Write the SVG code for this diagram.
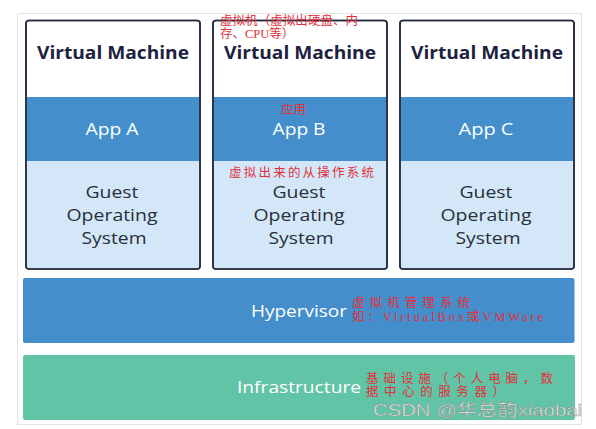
<svg xmlns="http://www.w3.org/2000/svg" width="596" height="429" viewBox="0 0 596 429">
<style>
.vm{fill:#ffffff;stroke:#262c40;stroke-width:1.6}
.app{fill:#448fcb}
.os{fill:#d3e7f8}
.title{font-family:"Open Sans","Liberation Sans",Arial,sans-serif;font-weight:bold;font-size:17px;fill:#1c2240;text-anchor:middle}
.apptxt{font-family:"Open Sans","Liberation Sans",Arial,sans-serif;font-size:16px;fill:#ffffff;text-anchor:middle}
.ostxt{font-family:"Open Sans","Liberation Sans",Arial,sans-serif;font-size:16.5px;fill:#2a2f3a;text-anchor:middle}
.band{font-family:"Open Sans","Liberation Sans",Arial,sans-serif;font-size:16.5px;fill:#ffffff;text-anchor:middle}
.note{font-family:"Liberation Serif","Noto Sans CJK SC",serif;font-size:12.5px;fill:#e0303a}
.mark{font-family:"Liberation Sans","Noto Sans CJK SC",sans-serif;font-size:17px;fill:#f4f4f4;stroke:#8a8a8a;stroke-width:0.5;opacity:0.9}
</style>
<rect x="0" y="0" width="596" height="429" fill="#ffffff"/>
<rect x="17.5" y="13.5" width="564" height="411" fill="#ffffff" stroke="#e4e4e4" stroke-width="1"/>

<g id="vm1">
<rect class="vm" x="26" y="20.5" width="174" height="248.5" rx="3"/>
<rect class="app" x="26.8" y="97" width="172.4" height="64"/>
<rect class="os" x="26.8" y="161" width="172.4" height="107.2"/>
<rect x="26" y="20.5" width="174" height="248.5" rx="3" fill="none" stroke="#262c40" stroke-width="1.6"/>
<text class="title" x="113" y="59" textLength="152" lengthAdjust="spacingAndGlyphs">Virtual Machine</text>
<text class="apptxt" x="112" y="135" textLength="53" lengthAdjust="spacingAndGlyphs">App A</text>
<text class="ostxt" x="112" y="198" textLength="53" lengthAdjust="spacingAndGlyphs">Guest</text>
<text class="ostxt" x="112" y="221" textLength="91" lengthAdjust="spacingAndGlyphs">Operating</text>
<text class="ostxt" x="114" y="244" textLength="65" lengthAdjust="spacingAndGlyphs">System</text>
</g>

<g id="vm2">
<rect class="vm" x="213" y="20.5" width="174" height="248.5" rx="3"/>
<rect class="app" x="213.8" y="97" width="172.4" height="64"/>
<rect class="os" x="213.8" y="161" width="172.4" height="107.2"/>
<rect x="213" y="20.5" width="174" height="248.5" rx="3" fill="none" stroke="#262c40" stroke-width="1.6"/>
<text class="title" x="300" y="59" textLength="152" lengthAdjust="spacingAndGlyphs">Virtual Machine</text>
<text class="apptxt" x="299" y="135" textLength="53" lengthAdjust="spacingAndGlyphs">App B</text>
<text class="ostxt" x="299" y="198" textLength="53" lengthAdjust="spacingAndGlyphs">Guest</text>
<text class="ostxt" x="299" y="221" textLength="91" lengthAdjust="spacingAndGlyphs">Operating</text>
<text class="ostxt" x="301" y="244" textLength="65" lengthAdjust="spacingAndGlyphs">System</text>
</g>

<g id="vm3">
<rect class="vm" x="400" y="20.5" width="174" height="248.5" rx="3"/>
<rect class="app" x="400.8" y="97" width="172.4" height="64"/>
<rect class="os" x="400.8" y="161" width="172.4" height="107.2"/>
<rect x="400" y="20.5" width="174" height="248.5" rx="3" fill="none" stroke="#262c40" stroke-width="1.6"/>
<text class="title" x="487" y="59" textLength="152" lengthAdjust="spacingAndGlyphs">Virtual Machine</text>
<text class="apptxt" x="486" y="135" textLength="55" lengthAdjust="spacingAndGlyphs">App C</text>
<text class="ostxt" x="486" y="198" textLength="53" lengthAdjust="spacingAndGlyphs">Guest</text>
<text class="ostxt" x="486" y="221" textLength="91" lengthAdjust="spacingAndGlyphs">Operating</text>
<text class="ostxt" x="488" y="244" textLength="65" lengthAdjust="spacingAndGlyphs">System</text>
</g>

<g id="hypervisor">
<rect x="23" y="278" width="551.5" height="65" rx="2" fill="#448ecb"/>
<text class="band" x="299" y="317" textLength="96" lengthAdjust="spacingAndGlyphs">Hypervisor</text>
</g>

<g id="infrastructure">
<rect x="23" y="355" width="552" height="65" rx="2" fill="#62c4a6"/>
<text class="band" x="299" y="393" textLength="124" lengthAdjust="spacingAndGlyphs">Infrastructure</text>
</g>

<g id="connectors"></g>

<g id="annotations">
<text class="note" x="220" y="25" textLength="138" lengthAdjust="spacing">虚拟机（虚拟出硬盘、内</text>
<text class="note" x="220" y="38">存、CPU等）</text>
<text class="note" x="281" y="114">应用</text>
<text class="note" x="229" y="177" textLength="145" lengthAdjust="spacing">虚拟出来的从操作系统</text>
<text class="note" x="352" y="307" textLength="118" lengthAdjust="spacing">虚拟机管理系统</text>
<text class="note" x="352" y="321" textLength="191" lengthAdjust="spacing">如：VirtualBox或VMWare</text>
<text class="note" x="366" y="383" textLength="187" lengthAdjust="spacing">基础设施（个人电脑，数</text>
<text class="note" x="366" y="396" textLength="139" lengthAdjust="spacing">据中心的服务器）</text>
</g>

<text class="mark" x="373" y="416" textLength="209" lengthAdjust="spacingAndGlyphs">CSDN @华总韵xiaobai</text>
</svg>
